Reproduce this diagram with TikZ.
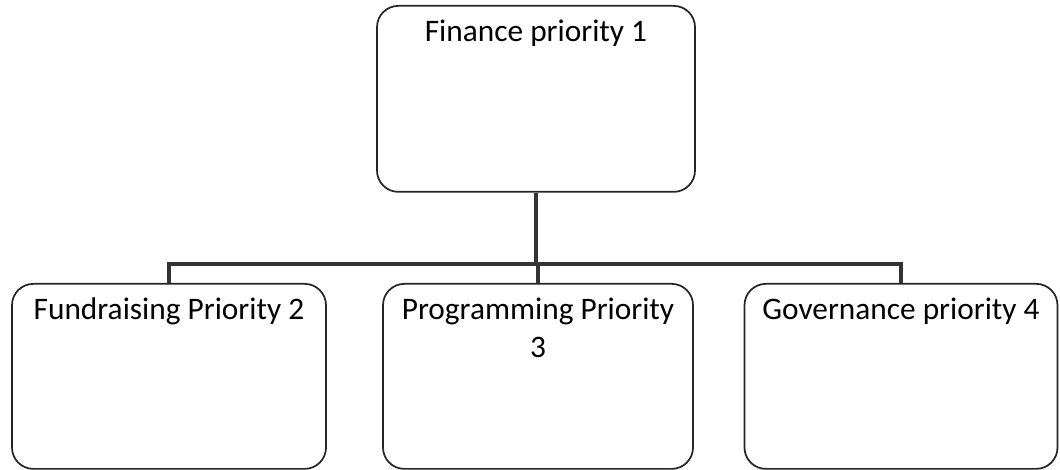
\documentclass[tikz,border=0pt]{standalone}
\usepackage{fontspec}
\setmainfont{Carlito}
\usepackage{tikz}

\newlength{\pxu}
\setlength{\pxu}{0.75pt}
\newcommand{\boxtext}[2]{\parbox[t][#1][t]{300\pxu}{\centering\fontsize{23.5}{26.25}\selectfont\rule{0pt}{36\pxu}#2}}

\begin{document}
\begin{tikzpicture}[x=0.75pt,y=-0.75pt,
    box/.style={draw=black!85,line width=1.3pt,rounded corners=16pt,inner sep=0pt,
        minimum width=#1,anchor=north},
    conn/.style={draw=black!80,line width=3pt}]
	\useasboundingbox (0,0) rectangle (1060,470);
	\node[box=318\pxu] (fin)  at (536, 5)   {\boxtext{186\pxu}{Finance priority 1}};
	\node[box=314\pxu] (fund) at (169, 283) {\boxtext{185\pxu}{Fundraising Priority 2}};
	\node[box=310\pxu] (prog) at (538, 283) {\boxtext{185\pxu}{Programming Priority\\[2pt]3}};
	\node[box=313\pxu] (gov)  at (901, 283) {\boxtext{185\pxu}{Governance priority 4}};
	\coordinate (bus) at (537, 264);
    \draw[conn] (fin.south) -- (fin.south |- bus);
    \draw[conn] (fund.north) -- (fund.north |- bus) -| (gov.north);
    \draw[conn] (prog.north) -- (prog.north |- bus);
\end{tikzpicture}
\end{document}
